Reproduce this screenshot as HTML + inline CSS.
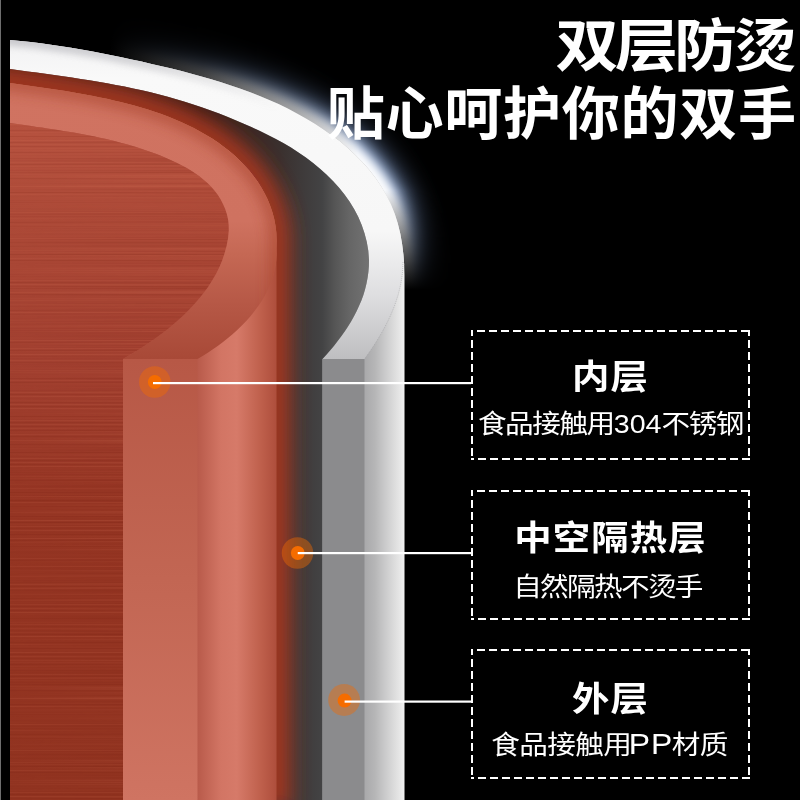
<!DOCTYPE html>
<html lang="zh-CN">
<head>
<meta charset="utf-8">
<title>双层防烫</title>
<style>
html,body{margin:0;padding:0;background:#000;}
body{width:800px;height:800px;position:relative;overflow:hidden;font-family:"Liberation Sans","Noto Sans CJK SC",sans-serif;color:#fff;}
svg{position:absolute;left:0;top:0;display:block;}
.t{position:absolute;white-space:nowrap;color:#fff;line-height:1;}
.h1{font-weight:700;font-size:57px;right:8px;text-align:right;transform-origin:100% 50%;}
.box{position:absolute;left:472px;width:277px;height:128px;}
.bt{position:absolute;left:0;width:100%;text-align:center;font-weight:700;font-size:34px;letter-spacing:1px;line-height:1;white-space:nowrap;transform:scaleX(1.1);}
.bs{position:absolute;left:0;width:100%;text-align:center;font-weight:400;font-size:26px;letter-spacing:-1.5px;line-height:1;white-space:nowrap;transform:scaleX(1.1);}
.bs i{font-style:normal;letter-spacing:0;}
</style>
</head>
<body>
<svg width="800" height="800" viewBox="0 0 800 800">
<defs>
  <linearGradient id="gOuter" x1="364" x2="405" y1="0" y2="0" gradientUnits="userSpaceOnUse">
    <stop offset="0" stop-color="#a8a8aa"/><stop offset="0.27" stop-color="#b6b6b7"/><stop offset="0.5" stop-color="#c9c9ca"/><stop offset="0.75" stop-color="#dddddd"/><stop offset="0.9" stop-color="#e9e9e9"/><stop offset="1" stop-color="#f4f4f4"/>
  </linearGradient>
  <linearGradient id="gRim" x1="0" x2="0" y1="40" y2="359" gradientUnits="userSpaceOnUse">
    <stop offset="0" stop-color="#f2f2f3"/><stop offset="0.12" stop-color="#f9f9f9"/><stop offset="0.6" stop-color="#f7f7f7"/><stop offset="0.8" stop-color="#dedee0"/><stop offset="1" stop-color="#bebec0"/>
  </linearGradient>
  <linearGradient id="gGap" x1="10" x2="370" y1="0" y2="0" gradientUnits="userSpaceOnUse">
    <stop offset="0" stop-color="#5a2418"/><stop offset="0.53" stop-color="#3a1c16"/><stop offset="0.75" stop-color="#3a302e"/><stop offset="0.81" stop-color="#3e3a3a"/><stop offset="0.867" stop-color="#434344"/><stop offset="0.903" stop-color="#565656"/><stop offset="0.944" stop-color="#666666"/><stop offset="1" stop-color="#737373"/>
  </linearGradient>
  <linearGradient id="gCyl" x1="197" x2="276.5" y1="0" y2="0" gradientUnits="userSpaceOnUse">
    <stop offset="0" stop-color="#b85a4a"/><stop offset="0.3" stop-color="#d27564"/><stop offset="0.5" stop-color="#d67a69"/><stop offset="0.8" stop-color="#bf604c"/><stop offset="1" stop-color="#ae4e3c"/>
  </linearGradient>
  <linearGradient id="gAnn" x1="0" x2="0" y1="83" y2="359" gradientUnits="userSpaceOnUse">
    <stop offset="0" stop-color="#d07361"/><stop offset="0.5" stop-color="#cf7260"/><stop offset="0.62" stop-color="#c56854"/><stop offset="0.8" stop-color="#b65846"/><stop offset="1" stop-color="#a84937"/>
  </linearGradient>
  <linearGradient id="gTex" x1="0" x2="0" y1="123" y2="800" gradientUnits="userSpaceOnUse">
    <stop offset="0" stop-color="#b6523f"/><stop offset="0.15" stop-color="#ac4937"/><stop offset="0.35" stop-color="#a24030"/><stop offset="0.56" stop-color="#953523"/><stop offset="1" stop-color="#913320"/>
  </linearGradient>
  <linearGradient id="gFace" x1="0" x2="0" y1="359" y2="800" gradientUnits="userSpaceOnUse">
    <stop offset="0" stop-color="#b75846"/><stop offset="0.5" stop-color="#c26653"/><stop offset="1" stop-color="#cf7462"/>
  </linearGradient>
  <linearGradient id="gRimShade" x1="0" x2="330" y1="0" y2="0" gradientUnits="userSpaceOnUse">
    <stop offset="0" stop-color="#b9b9be"/><stop offset="0.4" stop-color="#b9b9be" stop-opacity="0.8"/><stop offset="0.85" stop-color="#b9b9be" stop-opacity="0"/><stop offset="1" stop-color="#b9b9be" stop-opacity="0"/>
  </linearGradient>
  <linearGradient id="gGlowMask" x1="110" x2="420" y1="0" y2="0" gradientUnits="userSpaceOnUse">
    <stop offset="0" stop-color="#000"/><stop offset="0.3" stop-color="#444"/><stop offset="0.6" stop-color="#aaa"/><stop offset="0.8" stop-color="#fff"/><stop offset="1" stop-color="#fff"/>
  </linearGradient>
  <linearGradient id="gGlowMaskY" x1="0" x2="0" y1="190" y2="290" gradientUnits="userSpaceOnUse">
    <stop offset="0" stop-color="#fff"/><stop offset="0.5" stop-color="#777"/><stop offset="1" stop-color="#000"/>
  </linearGradient>
  <mask id="mGlow" maskUnits="userSpaceOnUse" x="0" y="0" width="800" height="800">
    <rect x="0" y="0" width="800" height="800" fill="url(#gGlowMask)"/>
  </mask>
  <mask id="mGlowY" maskUnits="userSpaceOnUse" x="0" y="0" width="800" height="800">
    <rect x="0" y="0" width="800" height="800" fill="url(#gGlowMaskY)"/>
  </mask>
  <filter id="b2" x="-20%" y="-20%" width="140%" height="140%"><feGaussianBlur stdDeviation="2"/></filter>
  <filter id="b3" x="-20%" y="-20%" width="140%" height="140%"><feGaussianBlur stdDeviation="3"/></filter>
  <filter id="b4" x="-20%" y="-20%" width="140%" height="140%"><feGaussianBlur stdDeviation="4"/></filter>
  <filter id="b5" x="-20%" y="-20%" width="140%" height="140%"><feGaussianBlur stdDeviation="5"/></filter>
  <filter id="b7" x="-30%" y="-30%" width="160%" height="160%"><feGaussianBlur stdDeviation="7"/></filter>
  <filter id="b10" x="-30%" y="-30%" width="160%" height="160%"><feGaussianBlur stdDeviation="10"/></filter>
  <filter id="b8" x="-30%" y="-30%" width="160%" height="160%"><feGaussianBlur stdDeviation="8"/></filter>
  <filter id="b14" x="-30%" y="-30%" width="160%" height="160%"><feGaussianBlur stdDeviation="14"/></filter>
  <filter id="fTex" x="0" y="0" width="100%" height="100%" filterUnits="objectBoundingBox" color-interpolation-filters="sRGB">
    <feTurbulence type="fractalNoise" baseFrequency="0.0015 0.5" numOctaves="2" seed="11"/>
    <feColorMatrix type="matrix" values="1 0 0 0 0  1 0 0 0 0  1 0 0 0 0  1 0 0 0 0"/>
    <feComponentTransfer>
      <feFuncR type="discrete" tableValues="0.40 0.90"/><feFuncG type="discrete" tableValues="0.08 0.52"/><feFuncB type="discrete" tableValues="0.03 0.40"/>
      <feFuncA type="table" tableValues="1 0 1"/>
    </feComponentTransfer>
  </filter>
  <clipPath id="cGap"><path d="M10.0 69.0 L18.8 70.2 L27.6 71.4 L36.4 72.6 L45.3 73.8 L54.1 75.0 L62.9 76.3 L71.8 77.6 L80.6 78.9 L89.4 80.3 L98.2 81.8 L107.0 83.3 L115.7 84.9 L124.5 86.6 L133.2 88.4 L141.9 90.3 L150.6 92.3 L159.2 94.5 L167.8 96.8 L176.3 99.2 L184.8 101.8 L193.3 104.5 L201.7 107.3 L210.1 110.2 L218.5 113.3 L226.7 116.6 L235.0 119.9 L243.2 123.4 L251.4 127.0 L259.5 130.8 L267.5 134.7 L275.4 138.8 L283.3 143.1 L291.0 147.6 L298.5 152.5 L305.9 157.6 L313.1 163.0 L320.0 168.7 L326.7 174.7 L333.0 181.0 L338.9 187.5 L344.5 194.4 L349.5 201.6 L354.1 209.1 L358.2 216.8 L361.7 224.9 L364.5 233.3 L366.8 241.9 L368.3 250.8 L369.0 260.0 L369.0 260.0 L368.9 266.0 L368.4 272.0 L367.6 277.8 L366.5 283.6 L365.1 289.3 L363.4 294.9 L361.4 300.4 L359.1 305.8 L356.7 311.1 L354.0 316.3 L351.1 321.5 L348.0 326.5 L344.7 331.5 L341.3 336.3 L337.7 341.0 L334.1 345.7 L330.3 350.2 L326.4 354.7 L322.5 359.0 L322.5 800 L10 800 Z"/></clipPath>
  <clipPath id="cAnn"><path d="M10.0 83.0 L16.9 84.0 L23.9 85.0 L30.8 86.0 L37.8 86.9 L44.7 87.9 L51.6 89.0 L58.6 90.0 L65.5 91.1 L72.4 92.3 L79.3 93.4 L86.2 94.7 L93.1 96.0 L100.0 97.4 L106.9 98.8 L113.7 100.4 L120.6 102.0 L127.4 103.7 L134.2 105.5 L141.0 107.5 L147.8 109.6 L154.5 111.8 L161.3 114.1 L167.9 116.6 L174.5 119.2 L181.0 122.0 L187.4 125.0 L193.8 128.1 L200.0 131.4 L206.1 134.9 L212.1 138.6 L218.0 142.6 L223.6 146.7 L229.2 151.0 L234.5 155.6 L239.6 160.4 L244.5 165.4 L249.2 170.6 L253.5 176.0 L257.6 181.6 L261.3 187.4 L264.7 193.4 L267.7 199.6 L270.3 205.9 L272.5 212.5 L274.3 219.2 L275.6 226.2 L276.4 233.3 L276.7 240.5 L276.5 248.0 L276.5 248.0 L276.6 254.4 L276.2 260.7 L275.3 266.8 L274.0 272.8 L272.3 278.7 L270.2 284.5 L267.7 290.1 L264.9 295.5 L261.7 300.9 L258.3 306.0 L254.6 311.1 L250.7 316.0 L246.5 320.7 L242.1 325.3 L237.5 329.7 L232.8 333.9 L228.0 338.0 L223.0 342.0 L218.0 345.7 L212.9 349.3 L207.8 352.7 L202.6 355.9 L197.5 359.0 L123 359 L123.0 359.0 L129.3 355.3 L135.7 351.5 L142.0 347.5 L148.3 343.3 L154.5 339.0 L160.6 334.5 L166.7 329.9 L172.6 325.1 L178.3 320.1 L183.9 314.9 L189.3 309.6 L194.4 304.0 L199.4 298.3 L204.0 292.5 L208.4 286.4 L212.5 280.1 L216.2 273.7 L219.5 267.0 L222.3 260.2 L224.7 253.1 L226.6 245.9 L228.0 238.4 L228.8 230.7 L228.8 230.7 L228.7 225.1 L228.1 219.6 L226.9 214.2 L225.2 209.1 L223.1 204.2 L220.7 199.6 L217.9 195.1 L214.8 191.0 L211.4 187.1 L207.7 183.3 L203.8 179.9 L199.7 176.6 L195.3 173.5 L190.8 170.5 L186.2 167.8 L181.4 165.2 L176.5 162.7 L171.6 160.4 L166.6 158.2 L161.5 156.1 L156.5 154.1 L151.4 152.2 L146.3 150.4 L141.2 148.7 L136.1 147.1 L130.9 145.5 L125.8 144.1 L120.6 142.7 L115.4 141.3 L110.3 140.1 L105.1 138.8 L99.9 137.7 L94.7 136.6 L89.4 135.5 L84.2 134.5 L78.9 133.6 L73.7 132.6 L68.4 131.7 L63.2 130.9 L57.9 130.0 L52.6 129.2 L47.3 128.4 L42.0 127.6 L36.7 126.9 L31.3 126.1 L26.0 125.3 L20.7 124.6 L15.3 123.8 L10.0 123.0 Z"/></clipPath>
  <clipPath id="cRim"><path d="M10.0 40.0 L20.3 41.0 L30.5 42.1 L40.7 43.3 L50.9 44.7 L61.0 46.2 L71.1 47.8 L81.2 49.5 L91.3 51.3 L101.4 53.2 L111.4 55.2 L121.4 57.3 L131.5 59.4 L141.5 61.6 L151.5 63.9 L161.5 66.2 L171.5 68.6 L181.5 71.1 L191.4 73.7 L201.4 76.4 L211.2 79.2 L221.1 82.2 L230.8 85.4 L240.5 88.7 L250.2 92.2 L259.7 96.0 L269.2 99.9 L278.6 104.1 L287.8 108.6 L297.0 113.4 L306.0 118.4 L314.9 123.8 L323.6 129.4 L332.1 135.4 L340.3 141.6 L348.1 148.2 L355.6 155.2 L362.8 162.5 L369.4 170.1 L375.6 178.1 L381.3 186.4 L386.4 195.2 L390.9 204.2 L394.7 213.7 L397.8 223.6 L400.3 233.8 L402.1 244.1 L403.4 254.6 L404.2 264.9 L403.0 262.0 L402.8 267.6 L402.4 273.2 L401.7 278.7 L400.7 284.2 L399.5 289.6 L398.1 295.0 L396.4 300.3 L394.6 305.6 L392.5 310.8 L390.3 315.9 L387.9 321.0 L385.4 326.0 L382.7 331.0 L379.9 335.8 L377.0 340.6 L374.0 345.3 L370.9 350.0 L367.7 354.5 L364.5 359.0 L322.5 359 L322.5 359.0 L326.4 354.7 L330.3 350.2 L334.1 345.7 L337.7 341.0 L341.3 336.3 L344.7 331.5 L348.0 326.5 L351.1 321.5 L354.0 316.3 L356.7 311.1 L359.1 305.8 L361.4 300.4 L363.4 294.9 L365.1 289.3 L366.5 283.6 L367.6 277.8 L368.4 272.0 L368.9 266.0 L369.0 260.0 L369.0 260.0 L368.3 250.8 L366.8 241.9 L364.5 233.3 L361.7 224.9 L358.2 216.8 L354.1 209.1 L349.5 201.6 L344.5 194.4 L338.9 187.5 L333.0 181.0 L326.7 174.7 L320.0 168.7 L313.1 163.0 L305.9 157.6 L298.5 152.5 L291.0 147.6 L283.3 143.1 L275.4 138.8 L267.5 134.7 L259.5 130.8 L251.4 127.0 L243.2 123.4 L235.0 119.9 L226.7 116.6 L218.5 113.3 L210.1 110.2 L201.7 107.3 L193.3 104.5 L184.8 101.8 L176.3 99.2 L167.8 96.8 L159.2 94.5 L150.6 92.3 L141.9 90.3 L133.2 88.4 L124.5 86.6 L115.7 84.9 L107.0 83.3 L98.2 81.8 L89.4 80.3 L80.6 78.9 L71.8 77.6 L62.9 76.3 L54.1 75.0 L45.3 73.8 L36.4 72.6 L27.6 71.4 L18.8 70.2 L10.0 69.0 Z"/></clipPath>
  <clipPath id="cTex"><path d="M10.0 123.0 L15.3 123.8 L20.7 124.6 L26.0 125.3 L31.3 126.1 L36.7 126.9 L42.0 127.6 L47.3 128.4 L52.6 129.2 L57.9 130.0 L63.2 130.9 L68.4 131.7 L73.7 132.6 L78.9 133.6 L84.2 134.5 L89.4 135.5 L94.7 136.6 L99.9 137.7 L105.1 138.8 L110.3 140.1 L115.4 141.3 L120.6 142.7 L125.8 144.1 L130.9 145.5 L136.1 147.1 L141.2 148.7 L146.3 150.4 L151.4 152.2 L156.5 154.1 L161.5 156.1 L166.6 158.2 L171.6 160.4 L176.5 162.7 L181.4 165.2 L186.2 167.8 L190.8 170.5 L195.3 173.5 L199.7 176.6 L203.8 179.9 L207.7 183.3 L211.4 187.1 L214.8 191.0 L217.9 195.1 L220.7 199.6 L223.1 204.2 L225.2 209.1 L226.9 214.2 L228.1 219.6 L228.7 225.1 L228.8 230.7 L228.8 230.7 L228.0 238.4 L226.6 245.9 L224.7 253.1 L222.3 260.2 L219.5 267.0 L216.2 273.7 L212.5 280.1 L208.4 286.4 L204.0 292.5 L199.4 298.3 L194.4 304.0 L189.3 309.6 L183.9 314.9 L178.3 320.1 L172.6 325.1 L166.7 329.9 L160.6 334.5 L154.5 339.0 L148.3 343.3 L142.0 347.5 L135.7 351.5 L129.3 355.3 L123.0 359.0 L123 800 L10 800 Z"/></clipPath>
</defs>
<rect width="800" height="800" fill="#000"/>
<!-- halo glow behind rim -->
<g mask="url(#mGlowY)"><g mask="url(#mGlow)">
  <path d="M101.4 53.2 L111.4 55.2 L121.4 57.3 L131.5 59.4 L141.5 61.6 L151.5 63.9 L161.5 66.2 L171.5 68.6 L181.5 71.1 L191.4 73.7 L201.4 76.4 L211.2 79.2 L221.1 82.2 L230.8 85.4 L240.5 88.7 L250.2 92.2 L259.7 96.0 L269.2 99.9 L278.6 104.1 L287.8 108.6 L297.0 113.4 L306.0 118.4 L314.9 123.8 L323.6 129.4 L332.1 135.4 L340.3 141.6 L348.1 148.2 L355.6 155.2 L362.8 162.5 L369.4 170.1 L375.6 178.1 L381.3 186.4 L386.4 195.2 L390.9 204.2 L394.7 213.7 L397.8 223.6 L400.3 233.8 L402.1 244.1 L403.4 254.6 L404.2 264.9 L404.5 275.0 L404.5 360" fill="none" stroke="#6c84ae" stroke-width="36" filter="url(#b14)"/>
  <path d="M101.4 53.2 L111.4 55.2 L121.4 57.3 L131.5 59.4 L141.5 61.6 L151.5 63.9 L161.5 66.2 L171.5 68.6 L181.5 71.1 L191.4 73.7 L201.4 76.4 L211.2 79.2 L221.1 82.2 L230.8 85.4 L240.5 88.7 L250.2 92.2 L259.7 96.0 L269.2 99.9 L278.6 104.1 L287.8 108.6 L297.0 113.4 L306.0 118.4 L314.9 123.8 L323.6 129.4 L332.1 135.4 L340.3 141.6 L348.1 148.2 L355.6 155.2 L362.8 162.5 L369.4 170.1 L375.6 178.1 L381.3 186.4 L386.4 195.2 L390.9 204.2 L394.7 213.7 L397.8 223.6 L400.3 233.8 L402.1 244.1 L403.4 254.6 L404.2 264.9 L404.5 275.0 L404.5 360" fill="none" stroke="#b4c4e0" stroke-width="24" filter="url(#b7)"/>
  <path d="M101.4 53.2 L111.4 55.2 L121.4 57.3 L131.5 59.4 L141.5 61.6 L151.5 63.9 L161.5 66.2 L171.5 68.6 L181.5 71.1 L191.4 73.7 L201.4 76.4 L211.2 79.2 L221.1 82.2 L230.8 85.4 L240.5 88.7 L250.2 92.2 L259.7 96.0 L269.2 99.9 L278.6 104.1 L287.8 108.6 L297.0 113.4 L306.0 118.4 L314.9 123.8 L323.6 129.4 L332.1 135.4 L340.3 141.6 L348.1 148.2 L355.6 155.2 L362.8 162.5 L369.4 170.1 L375.6 178.1 L381.3 186.4 L386.4 195.2 L390.9 204.2 L394.7 213.7 L397.8 223.6 L400.3 233.8 L402.1 244.1 L403.4 254.6 L404.2 264.9 L404.5 275.0 L404.5 360" fill="none" stroke="#ffffff" stroke-width="14" filter="url(#b4)"/>
</g></g>
<!-- outer wall body -->
<path d="M10.0 40.0 L20.3 41.0 L30.5 42.1 L40.7 43.3 L50.9 44.7 L61.0 46.2 L71.1 47.8 L81.2 49.5 L91.3 51.3 L101.4 53.2 L111.4 55.2 L121.4 57.3 L131.5 59.4 L141.5 61.6 L151.5 63.9 L161.5 66.2 L171.5 68.6 L181.5 71.1 L191.4 73.7 L201.4 76.4 L211.2 79.2 L221.1 82.2 L230.8 85.4 L240.5 88.7 L250.2 92.2 L259.7 96.0 L269.2 99.9 L278.6 104.1 L287.8 108.6 L297.0 113.4 L306.0 118.4 L314.9 123.8 L323.6 129.4 L332.1 135.4 L340.3 141.6 L348.1 148.2 L355.6 155.2 L362.8 162.5 L369.4 170.1 L375.6 178.1 L381.3 186.4 L386.4 195.2 L390.9 204.2 L394.7 213.7 L397.8 223.6 L400.3 233.8 L402.1 244.1 L403.4 254.6 L404.2 264.9 L404.5 275.0 L404.5 800 L10 800 Z" fill="url(#gOuter)"/>
<!-- rim top face -->
<path d="M10.0 40.0 L20.3 41.0 L30.5 42.1 L40.7 43.3 L50.9 44.7 L61.0 46.2 L71.1 47.8 L81.2 49.5 L91.3 51.3 L101.4 53.2 L111.4 55.2 L121.4 57.3 L131.5 59.4 L141.5 61.6 L151.5 63.9 L161.5 66.2 L171.5 68.6 L181.5 71.1 L191.4 73.7 L201.4 76.4 L211.2 79.2 L221.1 82.2 L230.8 85.4 L240.5 88.7 L250.2 92.2 L259.7 96.0 L269.2 99.9 L278.6 104.1 L287.8 108.6 L297.0 113.4 L306.0 118.4 L314.9 123.8 L323.6 129.4 L332.1 135.4 L340.3 141.6 L348.1 148.2 L355.6 155.2 L362.8 162.5 L369.4 170.1 L375.6 178.1 L381.3 186.4 L386.4 195.2 L390.9 204.2 L394.7 213.7 L397.8 223.6 L400.3 233.8 L402.1 244.1 L403.4 254.6 L404.2 264.9 L403.0 262.0 L402.8 267.6 L402.4 273.2 L401.7 278.7 L400.7 284.2 L399.5 289.6 L398.1 295.0 L396.4 300.3 L394.6 305.6 L392.5 310.8 L390.3 315.9 L387.9 321.0 L385.4 326.0 L382.7 331.0 L379.9 335.8 L377.0 340.6 L374.0 345.3 L370.9 350.0 L367.7 354.5 L364.5 359.0 L322.5 359 L322.5 359.0 L326.4 354.7 L330.3 350.2 L334.1 345.7 L337.7 341.0 L341.3 336.3 L344.7 331.5 L348.0 326.5 L351.1 321.5 L354.0 316.3 L356.7 311.1 L359.1 305.8 L361.4 300.4 L363.4 294.9 L365.1 289.3 L366.5 283.6 L367.6 277.8 L368.4 272.0 L368.9 266.0 L369.0 260.0 L369.0 260.0 L368.3 250.8 L366.8 241.9 L364.5 233.3 L361.7 224.9 L358.2 216.8 L354.1 209.1 L349.5 201.6 L344.5 194.4 L338.9 187.5 L333.0 181.0 L326.7 174.7 L320.0 168.7 L313.1 163.0 L305.9 157.6 L298.5 152.5 L291.0 147.6 L283.3 143.1 L275.4 138.8 L267.5 134.7 L259.5 130.8 L251.4 127.0 L243.2 123.4 L235.0 119.9 L226.7 116.6 L218.5 113.3 L210.1 110.2 L201.7 107.3 L193.3 104.5 L184.8 101.8 L176.3 99.2 L167.8 96.8 L159.2 94.5 L150.6 92.3 L141.9 90.3 L133.2 88.4 L124.5 86.6 L115.7 84.9 L107.0 83.3 L98.2 81.8 L89.4 80.3 L80.6 78.9 L71.8 77.6 L62.9 76.3 L54.1 75.0 L45.3 73.8 L36.4 72.6 L27.6 71.4 L18.8 70.2 L10.0 69.0 Z" fill="url(#gRim)"/>
<g clip-path="url(#cRim)">
  <path d="M-10.0 38.0 L10.0 40.0 L20.3 41.0 L30.5 42.1 L40.7 43.3 L50.9 44.7 L61.0 46.2 L71.1 47.8 L81.2 49.5 L91.3 51.3 L101.4 53.2 L111.4 55.2 L121.4 57.3 L131.5 59.4 L141.5 61.6 L151.5 63.9 L161.5 66.2 L171.5 68.6 L181.5 71.1 L191.4 73.7 L201.4 76.4 L211.2 79.2 L221.1 82.2 L230.8 85.4 L240.5 88.7 L250.2 92.2 L259.7 96.0 L269.2 99.9 L278.6 104.1 L287.8 108.6 L297.0 113.4 L306.0 118.4 L314.9 123.8 L323.6 129.4 L332.1 135.4 L340.3 141.6 L348.1 148.2 L355.6 155.2 L362.8 162.5 L369.4 170.1 L375.6 178.1" fill="none" stroke="url(#gRimShade)" stroke-width="12" filter="url(#b3)" opacity="0.7"/>
</g>
<path d="M403.0 262.0 L402.8 267.6 L402.4 273.2 L401.7 278.7 L400.7 284.2 L399.5 289.6 L398.1 295.0 L396.4 300.3 L394.6 305.6 L392.5 310.8 L390.3 315.9 L387.9 321.0 L385.4 326.0 L382.7 331.0 L379.9 335.8 L377.0 340.6 L374.0 345.3 L370.9 350.0 L367.7 354.5 L364.5 359.0" fill="none" stroke="#9a9a9e" stroke-width="0.7" stroke-dasharray="1 1" opacity="0.7"/>
<!-- hollow gap -->
<path d="M10.0 69.0 L18.8 70.2 L27.6 71.4 L36.4 72.6 L45.3 73.8 L54.1 75.0 L62.9 76.3 L71.8 77.6 L80.6 78.9 L89.4 80.3 L98.2 81.8 L107.0 83.3 L115.7 84.9 L124.5 86.6 L133.2 88.4 L141.9 90.3 L150.6 92.3 L159.2 94.5 L167.8 96.8 L176.3 99.2 L184.8 101.8 L193.3 104.5 L201.7 107.3 L210.1 110.2 L218.5 113.3 L226.7 116.6 L235.0 119.9 L243.2 123.4 L251.4 127.0 L259.5 130.8 L267.5 134.7 L275.4 138.8 L283.3 143.1 L291.0 147.6 L298.5 152.5 L305.9 157.6 L313.1 163.0 L320.0 168.7 L326.7 174.7 L333.0 181.0 L338.9 187.5 L344.5 194.4 L349.5 201.6 L354.1 209.1 L358.2 216.8 L361.7 224.9 L364.5 233.3 L366.8 241.9 L368.3 250.8 L369.0 260.0 L369.0 260.0 L368.9 266.0 L368.4 272.0 L367.6 277.8 L366.5 283.6 L365.1 289.3 L363.4 294.9 L361.4 300.4 L359.1 305.8 L356.7 311.1 L354.0 316.3 L351.1 321.5 L348.0 326.5 L344.7 331.5 L341.3 336.3 L337.7 341.0 L334.1 345.7 L330.3 350.2 L326.4 354.7 L322.5 359.0 L322.5 800 L10 800 Z" fill="url(#gGap)"/>
<g clip-path="url(#cGap)">
  <path d="M-10.0 81.0 L10.0 83.0 L16.9 84.0 L23.9 85.0 L30.8 86.0 L37.8 86.9 L44.7 87.9 L51.6 89.0 L58.6 90.0 L65.5 91.1 L72.4 92.3 L79.3 93.4 L86.2 94.7 L93.1 96.0 L100.0 97.4 L106.9 98.8 L113.7 100.4 L120.6 102.0 L127.4 103.7 L134.2 105.5 L141.0 107.5 L147.8 109.6 L154.5 111.8 L161.3 114.1 L167.9 116.6 L174.5 119.2 L181.0 122.0 L187.4 125.0 L193.8 128.1 L200.0 131.4 L206.1 134.9 L212.1 138.6 L218.0 142.6 L223.6 146.7 L229.2 151.0 L234.5 155.6 L239.6 160.4 L244.5 165.4 L249.2 170.6 L253.5 176.0 L257.6 181.6 L261.3 187.4 L264.7 193.4 L267.7 199.6 L270.3 205.9 L272.5 212.5 L274.3 219.2 L275.6 226.2 L276.4 233.3 L276.7 240.5 L276.5 248.0 L276.5 810" fill="none" stroke="#a53822" stroke-width="28" filter="url(#b10)"/>
</g>
<!-- cut face of outer wall -->
<rect x="322.5" y="359" width="42" height="441" fill="#8b8b8d"/>
<!-- inner wall silhouette / cylinder surface -->
<path d="M10.0 83.0 L16.9 84.0 L23.9 85.0 L30.8 86.0 L37.8 86.9 L44.7 87.9 L51.6 89.0 L58.6 90.0 L65.5 91.1 L72.4 92.3 L79.3 93.4 L86.2 94.7 L93.1 96.0 L100.0 97.4 L106.9 98.8 L113.7 100.4 L120.6 102.0 L127.4 103.7 L134.2 105.5 L141.0 107.5 L147.8 109.6 L154.5 111.8 L161.3 114.1 L167.9 116.6 L174.5 119.2 L181.0 122.0 L187.4 125.0 L193.8 128.1 L200.0 131.4 L206.1 134.9 L212.1 138.6 L218.0 142.6 L223.6 146.7 L229.2 151.0 L234.5 155.6 L239.6 160.4 L244.5 165.4 L249.2 170.6 L253.5 176.0 L257.6 181.6 L261.3 187.4 L264.7 193.4 L267.7 199.6 L270.3 205.9 L272.5 212.5 L274.3 219.2 L275.6 226.2 L276.4 233.3 L276.7 240.5 L276.5 248.0 L276.5 800 L10 800 Z" fill="url(#gCyl)"/>
<!-- top ring of inner wall -->
<path d="M10.0 83.0 L16.9 84.0 L23.9 85.0 L30.8 86.0 L37.8 86.9 L44.7 87.9 L51.6 89.0 L58.6 90.0 L65.5 91.1 L72.4 92.3 L79.3 93.4 L86.2 94.7 L93.1 96.0 L100.0 97.4 L106.9 98.8 L113.7 100.4 L120.6 102.0 L127.4 103.7 L134.2 105.5 L141.0 107.5 L147.8 109.6 L154.5 111.8 L161.3 114.1 L167.9 116.6 L174.5 119.2 L181.0 122.0 L187.4 125.0 L193.8 128.1 L200.0 131.4 L206.1 134.9 L212.1 138.6 L218.0 142.6 L223.6 146.7 L229.2 151.0 L234.5 155.6 L239.6 160.4 L244.5 165.4 L249.2 170.6 L253.5 176.0 L257.6 181.6 L261.3 187.4 L264.7 193.4 L267.7 199.6 L270.3 205.9 L272.5 212.5 L274.3 219.2 L275.6 226.2 L276.4 233.3 L276.7 240.5 L276.5 248.0 L276.5 248.0 L276.6 254.4 L276.2 260.7 L275.3 266.8 L274.0 272.8 L272.3 278.7 L270.2 284.5 L267.7 290.1 L264.9 295.5 L261.7 300.9 L258.3 306.0 L254.6 311.1 L250.7 316.0 L246.5 320.7 L242.1 325.3 L237.5 329.7 L232.8 333.9 L228.0 338.0 L223.0 342.0 L218.0 345.7 L212.9 349.3 L207.8 352.7 L202.6 355.9 L197.5 359.0 L123 359 L123.0 359.0 L129.3 355.3 L135.7 351.5 L142.0 347.5 L148.3 343.3 L154.5 339.0 L160.6 334.5 L166.7 329.9 L172.6 325.1 L178.3 320.1 L183.9 314.9 L189.3 309.6 L194.4 304.0 L199.4 298.3 L204.0 292.5 L208.4 286.4 L212.5 280.1 L216.2 273.7 L219.5 267.0 L222.3 260.2 L224.7 253.1 L226.6 245.9 L228.0 238.4 L228.8 230.7 L228.8 230.7 L228.7 225.1 L228.1 219.6 L226.9 214.2 L225.2 209.1 L223.1 204.2 L220.7 199.6 L217.9 195.1 L214.8 191.0 L211.4 187.1 L207.7 183.3 L203.8 179.9 L199.7 176.6 L195.3 173.5 L190.8 170.5 L186.2 167.8 L181.4 165.2 L176.5 162.7 L171.6 160.4 L166.6 158.2 L161.5 156.1 L156.5 154.1 L151.4 152.2 L146.3 150.4 L141.2 148.7 L136.1 147.1 L130.9 145.5 L125.8 144.1 L120.6 142.7 L115.4 141.3 L110.3 140.1 L105.1 138.8 L99.9 137.7 L94.7 136.6 L89.4 135.5 L84.2 134.5 L78.9 133.6 L73.7 132.6 L68.4 131.7 L63.2 130.9 L57.9 130.0 L52.6 129.2 L47.3 128.4 L42.0 127.6 L36.7 126.9 L31.3 126.1 L26.0 125.3 L20.7 124.6 L15.3 123.8 L10.0 123.0 Z" fill="url(#gAnn)"/>
<!-- soft red shading on the inner wall's outer edge -->
<g clip-path="url(#cAnn)">
  <path d="M-10.0 81.0 L10.0 83.0 L16.9 84.0 L23.9 85.0 L30.8 86.0 L37.8 86.9 L44.7 87.9 L51.6 89.0 L58.6 90.0 L65.5 91.1 L72.4 92.3 L79.3 93.4 L86.2 94.7 L93.1 96.0 L100.0 97.4 L106.9 98.8 L113.7 100.4 L120.6 102.0 L127.4 103.7 L134.2 105.5 L141.0 107.5 L147.8 109.6 L154.5 111.8 L161.3 114.1 L167.9 116.6 L174.5 119.2 L181.0 122.0 L187.4 125.0 L193.8 128.1 L200.0 131.4 L206.1 134.9 L212.1 138.6 L218.0 142.6 L223.6 146.7 L229.2 151.0 L234.5 155.6 L239.6 160.4 L244.5 165.4 L249.2 170.6 L253.5 176.0 L257.6 181.6 L261.3 187.4 L264.7 193.4 L267.7 199.6 L270.3 205.9 L272.5 212.5 L274.3 219.2 L275.6 226.2 L276.4 233.3 L276.7 240.5 L276.5 248.0 L276.5 810" fill="none" stroke="#a23c28" stroke-width="13" filter="url(#b7)" opacity="0.6"/>
</g>
<!-- inner textured wall -->
<path d="M10.0 123.0 L15.3 123.8 L20.7 124.6 L26.0 125.3 L31.3 126.1 L36.7 126.9 L42.0 127.6 L47.3 128.4 L52.6 129.2 L57.9 130.0 L63.2 130.9 L68.4 131.7 L73.7 132.6 L78.9 133.6 L84.2 134.5 L89.4 135.5 L94.7 136.6 L99.9 137.7 L105.1 138.8 L110.3 140.1 L115.4 141.3 L120.6 142.7 L125.8 144.1 L130.9 145.5 L136.1 147.1 L141.2 148.7 L146.3 150.4 L151.4 152.2 L156.5 154.1 L161.5 156.1 L166.6 158.2 L171.6 160.4 L176.5 162.7 L181.4 165.2 L186.2 167.8 L190.8 170.5 L195.3 173.5 L199.7 176.6 L203.8 179.9 L207.7 183.3 L211.4 187.1 L214.8 191.0 L217.9 195.1 L220.7 199.6 L223.1 204.2 L225.2 209.1 L226.9 214.2 L228.1 219.6 L228.7 225.1 L228.8 230.7 L228.8 230.7 L228.0 238.4 L226.6 245.9 L224.7 253.1 L222.3 260.2 L219.5 267.0 L216.2 273.7 L212.5 280.1 L208.4 286.4 L204.0 292.5 L199.4 298.3 L194.4 304.0 L189.3 309.6 L183.9 314.9 L178.3 320.1 L172.6 325.1 L166.7 329.9 L160.6 334.5 L154.5 339.0 L148.3 343.3 L142.0 347.5 L135.7 351.5 L129.3 355.3 L123.0 359.0 L123 800 L10 800 Z" fill="url(#gTex)"/>
<g clip-path="url(#cTex)"><rect x="10" y="120" width="230" height="680" filter="url(#fTex)" opacity="0.24"/></g>
<!-- cut face of inner wall -->
<rect x="123" y="359" width="74.5" height="441" fill="url(#gFace)"/>
<!-- left black bar -->
<rect x="0" y="0" width="10" height="800" fill="#000"/>
<rect x="0" y="0" width="1" height="800" fill="#6e6e6e"/>
<!-- pointers -->
<g>
  <circle cx="154.75" cy="382" r="15.75" fill="#f26c00" opacity="0.42"/><circle cx="154.75" cy="382" r="6.9" fill="#f56c00"/>
  <rect x="153" y="382" width="318" height="2.2" fill="#fff"/>
  <circle cx="297.5" cy="553" r="15.75" fill="#f26c00" opacity="0.42"/><circle cx="297.75" cy="553" r="6.9" fill="#f56c00"/>
  <rect x="297.75" y="552" width="173.25" height="2.2" fill="#fff"/>
  <circle cx="344.1" cy="700" r="15.9" fill="#f26c00" opacity="0.42"/><circle cx="344.6" cy="700.6" r="7" fill="#f56c00"/>
  <rect x="344.6" y="700.5" width="126.4" height="2.2" fill="#fff"/>
</g>
<!-- dashed callout frames -->
  <g stroke="#fff" stroke-width="2" stroke-dasharray="8 4" fill="none">
    <path d="M471 331H750" stroke-dashoffset="6"/>
    <path d="M471 459H750" stroke-dashoffset="5"/>
    <path d="M472 330V460" stroke-dashoffset="2"/>
    <path d="M749 330V460" stroke-dashoffset="2"/>
  </g>
  <g stroke="#fff" stroke-width="2" stroke-dasharray="8 4" fill="none">
    <path d="M471 491H750" stroke-dashoffset="6"/>
    <path d="M471 619H750" stroke-dashoffset="5"/>
    <path d="M472 490V620" stroke-dashoffset="2"/>
    <path d="M749 490V620" stroke-dashoffset="2"/>
  </g>
  <g stroke="#fff" stroke-width="2" stroke-dasharray="8 4" fill="none">
    <path d="M471 650H750" stroke-dashoffset="6"/>
    <path d="M471 778H750" stroke-dashoffset="5"/>
    <path d="M472 649V779" stroke-dashoffset="2"/>
    <path d="M749 649V779" stroke-dashoffset="2"/>
  </g>
</svg>
<div class="t h1" style="top:18px;right:7px;letter-spacing:-3.6px;transform:scaleX(1.11);">双层防烫</div>
<div class="t h1" style="top:86px;right:3.5px;letter-spacing:0.6px;transform:scaleX(1.02);">贴心呵护你的双手</div>
<div class="box" style="top:331px;"><div class="bt" style="top:29px;">内层</div><div class="bs" style="top:80px;letter-spacing:-1.3px;">食品接触用<i>304</i>不锈钢</div></div>
<div class="box" style="top:491px;"><div class="bt" style="top:29.5px;">中空隔热层</div><div class="bs" style="top:82.5px;left:-3px;">自然隔热不烫手</div></div>
<div class="box" style="top:650px;"><div class="bt" style="top:32px;">外层</div><div class="bs" style="top:80.5px;left:-1px;letter-spacing:-0.5px;">食品接触用<i style="font-size:29px;line-height:26px;letter-spacing:1px;margin-left:-2.5px;margin-right:-1.5px">PP</i>材质</div></div>
</body>
</html>
